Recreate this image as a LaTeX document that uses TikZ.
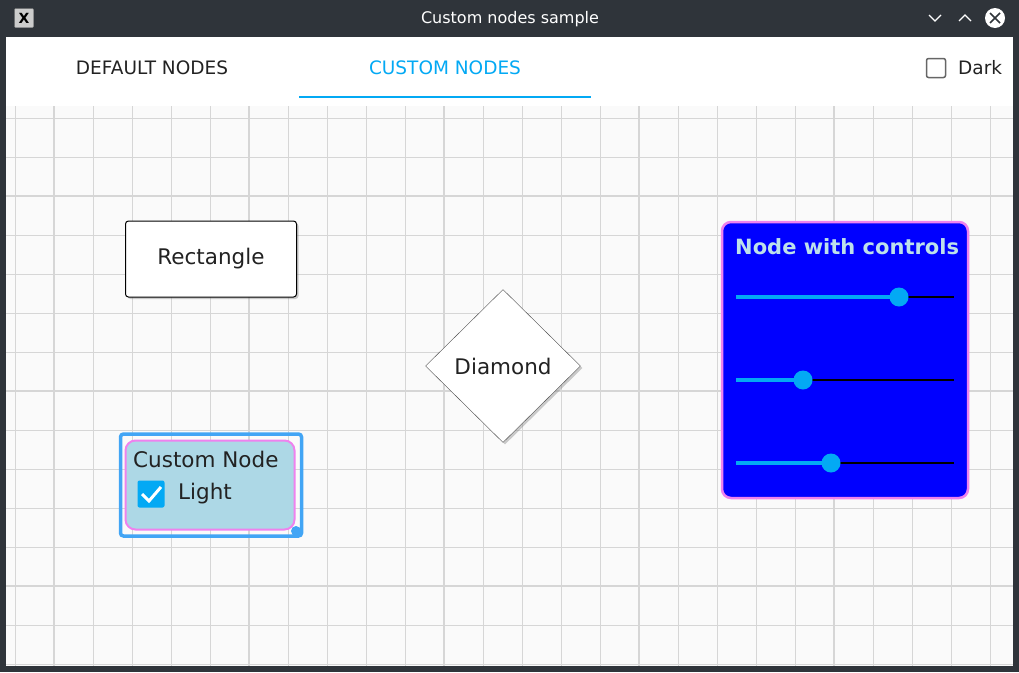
\documentclass[tikz,border=0pt]{standalone}
\usepackage{fontspec}
\setmainfont{DejaVu Sans}
\usetikzlibrary{shapes.geometric,shadows}
\definecolor{bar}{HTML}{2F343A}
\definecolor{bg}{HTML}{FAFAFA}
\definecolor{gridc}{HTML}{D6D6D6}
\definecolor{accent}{HTML}{03A9F4}
\definecolor{selb}{HTML}{42A5F5}
\definecolor{pinkb}{HTML}{EE82EE}
\definecolor{lblue}{HTML}{ADD8E6}
\definecolor{txt}{HTML}{222222}
\begin{document}
\begin{tikzpicture}[x=1pt,y=-1pt,
  lbl/.style={font=\fontsize{21.5}{24}\selectfont,text=txt},
  tab/.style={font=\fontsize{18.5}{22}\selectfont,text=txt},
  box/.style={draw=black,fill=white,rounded corners=3pt,drop shadow={shadow xshift=2pt,shadow yshift=-2pt,opacity=0.4}},
  slider/.style={line width=1.2pt},
  knob/.style={circle,fill=accent,inner sep=0pt,minimum size=19pt}]
\useasboundingbox (0,0) rectangle (1019,672);
\fill[bar] (0,0) rectangle (1019,672);
\fill[bg] (6,37) rectangle (1013,666);
\fill[white] (6,37) rectangle (1013,106);
% title bar
\node[font=\fontsize{16}{18}\selectfont,text=white] (title) at (510,19) {Custom nodes sample};
\node[draw=gray,fill=gray!40,rounded corners=1pt,minimum size=19pt,inner sep=0pt,font=\bfseries\fontsize{14}{14}\selectfont,text=black] (icon) at (24,18) {X};
\draw[white,line width=1.3pt] (929,15) -- (935,21) -- (941,15);
\draw[white,line width=1.3pt] (959,21) -- (965,15) -- (971,21);
\node[circle,fill=white,minimum size=20pt,inner sep=0pt] (cls) at (995,18) {};
\draw[bar,line width=1.5pt] (990,13) -- (1000,23) (1000,13) -- (990,23);
% tabs
\node[tab] (t1) at (152,68) {DEFAULT NODES};
\node[tab,text=accent] (t2) at (445,68) {CUSTOM NODES};
\fill[accent] (299,96) rectangle (591,98);
\node[draw=gray!80!black,line width=1.5pt,rounded corners=2pt,minimum size=19pt,inner sep=0pt] (cb) at (936,68) {};
\node[tab,anchor=west,inner sep=0pt] (dark) at (958,68) {Dark};
% grid
\begin{scope}
\clip (6,106) rectangle (1013,666);
\foreach \x in {15,54,...,1013} \draw[gridc,line width=1pt] (\x,106) -- (\x,666);
\foreach \y in {118,157,...,666} \draw[gridc,line width=1pt] (6,\y) -- (1013,\y);
\foreach \x in {54,249,444,639,834} \draw[gridc,line width=2.5pt] (\x,106) -- (\x,666);
\foreach \y in {196,391,586} \draw[gridc,line width=2.5pt] (6,\y) -- (1013,\y);
\end{scope}
% rectangle
\node[box,line width=1pt,minimum width=171pt,minimum height=76pt] (rect) at (211,259) {};
\node[lbl] (rectl) at (211,259) {Rectangle};
% diamond
\node[diamond,draw=black!70,fill=white,minimum width=155pt,minimum height=153pt,inner sep=0pt,drop shadow={shadow xshift=2pt,shadow yshift=-2pt,opacity=0.4}] (dia) at (503,366) {};
\node[lbl] (dial) at (503,366) {Diamond};
% custom node
\node[draw=selb,line width=3.5pt,rounded corners=3pt,minimum width=181pt,minimum height=102pt] (sel) at (211,485) {};
\fill[selb] (296,531) circle (5pt);
\node[draw=pinkb,fill=lblue,line width=2pt,rounded corners=10pt,minimum width=169pt,minimum height=89pt] (cust) at (210,485) {};
\node[lbl,anchor=west,inner sep=0pt] (custl) at (133,459) {Custom Node};
\node[fill=accent,rounded corners=2pt,minimum size=27pt,inner sep=0pt] (chk) at (151,494) {};
\draw[white,line width=3pt] (142,494) -- (149,501) -- (161,487);
\node[lbl,anchor=west,inner sep=0pt] (light) at (178,494) {Light};
% node with controls
\node[draw=pinkb,fill=blue,line width=2.5pt,rounded corners=9pt,minimum width=246pt,minimum height=276pt] (ctrl) at (845,360) {};
\node[anchor=west,inner sep=0pt,font=\bfseries\fontsize{21}{24}\selectfont,text=lblue!80!white] (ctrll) at (735,247) {Node with controls};
\foreach \k/\y/\v in {a/297/899,b/380/803,c/463/831}{
  \coordinate (\k0) at (736,\y);
  \coordinate (\k1) at (954,\y);
  \draw[black,slider] (\k0) -- (\k1);
  \draw[accent,line width=3.5pt] (\k0) -- (\v,\y);
  \node[knob] (\k k) at (\v,\y) {};
}
\end{tikzpicture}
\end{document}
